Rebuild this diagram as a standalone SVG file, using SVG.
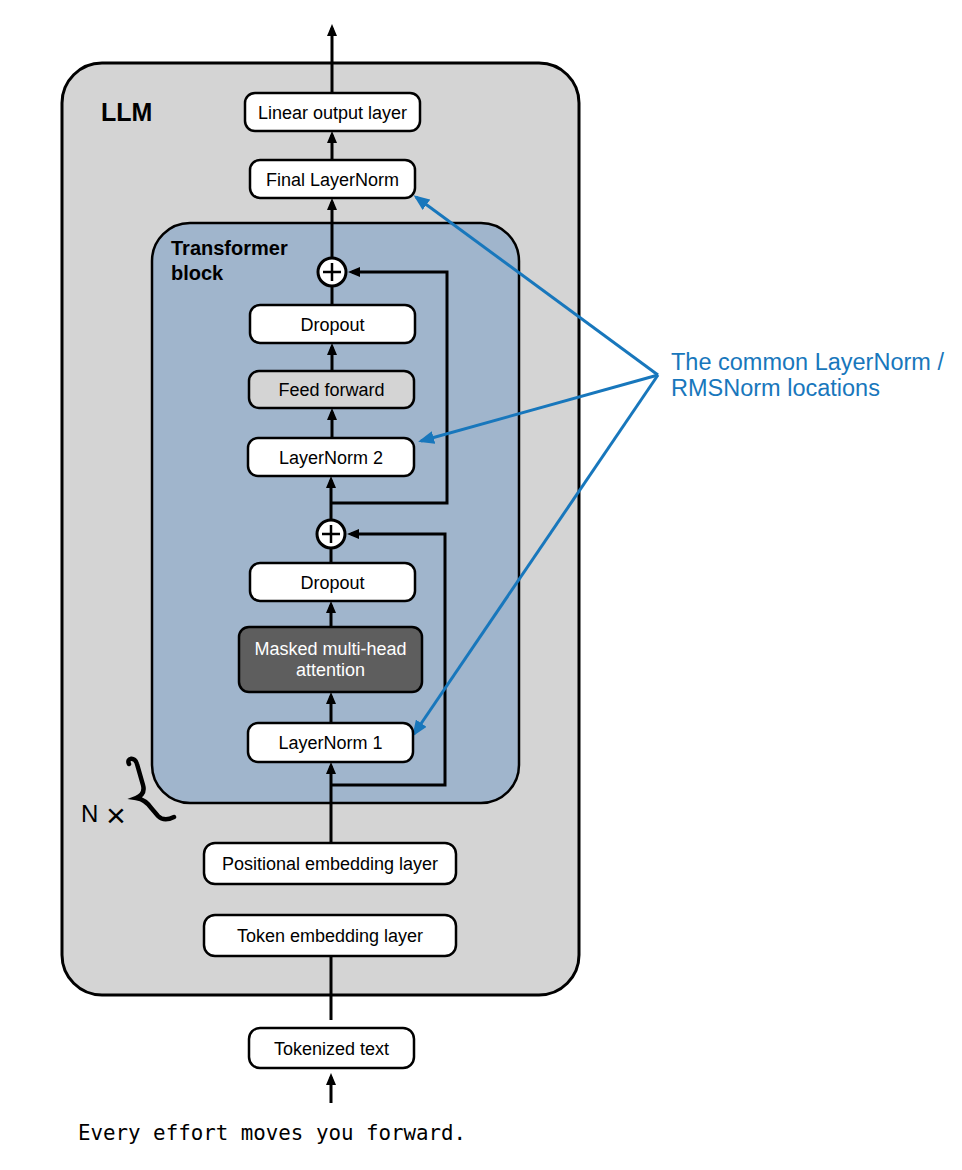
<svg xmlns="http://www.w3.org/2000/svg" width="962" height="1170" viewBox="0 0 962 1170">
<defs>
<marker id="ah" viewBox="0 0 12 10" refX="8" refY="5" markerWidth="12" markerHeight="10" markerUnits="userSpaceOnUse" orient="auto">
<path d="M0,0 L12,5 L0,10 z" fill="#000"/>
</marker>
<marker id="bh" viewBox="0 0 16 13" refX="13" refY="6.5" markerWidth="16" markerHeight="13" markerUnits="userSpaceOnUse" orient="auto">
<path d="M0,0 L16,6.5 L0,13 z" fill="#1877bc"/>
</marker>
</defs>
<style>
.box{fill:#fff;stroke:#000;stroke-width:2.5}
.lbl{font-family:"Liberation Sans",Arial,Helvetica,sans-serif;font-size:18px;fill:#000;text-anchor:middle}
.con{fill:none;stroke:#000;stroke-width:3}
.blue{fill:none;stroke:#1877bc;stroke-width:3}
</style>
<rect width="962" height="1170" fill="#fff"/>

<g id="llm">
<rect x="62" y="63" width="517" height="932" rx="40" fill="#d4d4d4" stroke="#000" stroke-width="3"/>
<text x="101" y="121" font-family="Liberation Sans,Arial,sans-serif" font-size="25" font-weight="bold">LLM</text>
</g>

<g id="transformer">
<rect x="152" y="223" width="367" height="580" rx="38" fill="#a0b5cc" stroke="#000" stroke-width="2.5"/>
<text font-family="Liberation Sans,Arial,sans-serif" font-size="20" font-weight="bold"><tspan x="171" y="255">Transformer</tspan><tspan x="171" y="280">block</tspan></text>
</g>

<g id="nx">
<text x="81" y="822" font-family="Liberation Sans,Arial,sans-serif" font-size="24">N</text>
<text x="106" y="827" font-family="Liberation Sans,Arial,sans-serif" font-size="34">×</text>
<path d="M129,764 C126,758 135,756 137,764 L143,785 C145,792 141,796 136,798 C143,799 148,803 152,809 L158,816 C162,820 168,820 174,817" fill="none" stroke="#000" stroke-width="4.5" stroke-linecap="round"/>
</g>

<g id="connectors">
<line class="con" x1="332" y1="93" x2="332" y2="28" marker-end="url(#ah)"/>
<line class="con" x1="332" y1="160" x2="332" y2="135" marker-end="url(#ah)"/>
<line class="con" x1="332" y1="258" x2="332" y2="202" marker-end="url(#ah)"/>
<line class="con" x1="332" y1="305" x2="332" y2="286"/>
<line class="con" x1="332" y1="371" x2="332" y2="347" marker-end="url(#ah)"/>
<line class="con" x1="332" y1="438" x2="332" y2="412" marker-end="url(#ah)"/>
<line class="con" x1="331" y1="520" x2="331" y2="480" marker-end="url(#ah)"/>
<line class="con" x1="331" y1="563" x2="331" y2="548"/>
<line class="con" x1="331" y1="627" x2="331" y2="605" marker-end="url(#ah)"/>
<line class="con" x1="331" y1="723" x2="331" y2="696" marker-end="url(#ah)"/>
<line class="con" x1="331" y1="843" x2="331" y2="766" marker-end="url(#ah)"/>
<path class="con" d="M331,503 H447 V272 H352" marker-end="url(#ah)"/>
<path class="con" d="M331,785 H445 V534 H351" marker-end="url(#ah)"/>
<line class="con" x1="331" y1="956" x2="331" y2="1020"/>
<line class="con" x1="331" y1="1103" x2="331" y2="1077" marker-end="url(#ah)"/>
<line class="blue" x1="658" y1="375" x2="416" y2="197" marker-end="url(#bh)"/>
<line class="blue" x1="658" y1="375" x2="421" y2="441" marker-end="url(#bh)"/>
<line class="blue" x1="658" y1="375" x2="414" y2="734" marker-end="url(#bh)"/>
</g>

<g id="add1">
<circle cx="332" cy="272" r="14" fill="#fff" stroke="#000" stroke-width="3"/>
<path d="M323,272 H341 M332,263 V281" stroke="#000" stroke-width="2.5"/>
</g>
<g id="add2">
<circle cx="331" cy="534" r="14" fill="#fff" stroke="#000" stroke-width="3"/>
<path d="M322,534 H340 M331,525 V543" stroke="#000" stroke-width="2.5"/>
</g>

<g id="linear-output"><rect class="box" x="245" y="93" width="175" height="38" rx="10"/><text class="lbl" x="332.5" y="118.5">Linear output layer</text></g>
<g id="final-ln"><rect class="box" x="250" y="160" width="165" height="38" rx="10"/><text class="lbl" x="332.5" y="185.5">Final LayerNorm</text></g>
<g id="dropout2"><rect class="box" x="250" y="305" width="165" height="38" rx="10"/><text class="lbl" x="332.5" y="330.5">Dropout</text></g>
<g id="ff"><rect class="box" x="249" y="371" width="165" height="37" rx="10" style="fill:#d4d4d4"/><text class="lbl" x="331.5" y="396">Feed forward</text></g>
<g id="ln2"><rect class="box" x="248" y="438" width="166" height="38" rx="10"/><text class="lbl" x="331" y="463.5">LayerNorm 2</text></g>
<g id="dropout1"><rect class="box" x="250" y="563" width="165" height="38" rx="10"/><text class="lbl" x="332.5" y="588.5">Dropout</text></g>
<g id="mha"><rect class="box" x="239" y="627" width="183" height="65" rx="10" style="fill:#5e5e5e"/><text class="lbl" style="fill:#fff"><tspan x="330.5" y="655">Masked multi-head</tspan><tspan x="330.5" y="676">attention</tspan></text></g>
<g id="ln1"><rect class="box" x="248" y="723" width="165" height="39" rx="10"/><text class="lbl" x="330.5" y="749">LayerNorm 1</text></g>
<g id="pos-emb"><rect class="box" x="204" y="843" width="252" height="41" rx="11"/><text class="lbl" x="330" y="870">Positional embedding layer</text></g>
<g id="tok-emb"><rect class="box" x="204" y="915" width="252" height="41" rx="11"/><text class="lbl" x="330" y="942">Token embedding layer</text></g>
<g id="tokenized"><rect class="box" x="249" y="1028" width="165" height="40" rx="11"/><text class="lbl" x="331.5" y="1054.5">Tokenized text</text></g>

<g id="input-text"><text x="78" y="1140" font-family="DejaVu Sans Mono,Liberation Mono,monospace" font-size="20.8">Every effort moves you forward.</text></g>

<g id="note"><text font-family="Liberation Sans,Arial,sans-serif" font-size="23.5" fill="#1877bc"><tspan x="671" y="370">The common LayerNorm /</tspan><tspan x="671" y="396">RMSNorm locations</tspan></text></g>
</svg>
